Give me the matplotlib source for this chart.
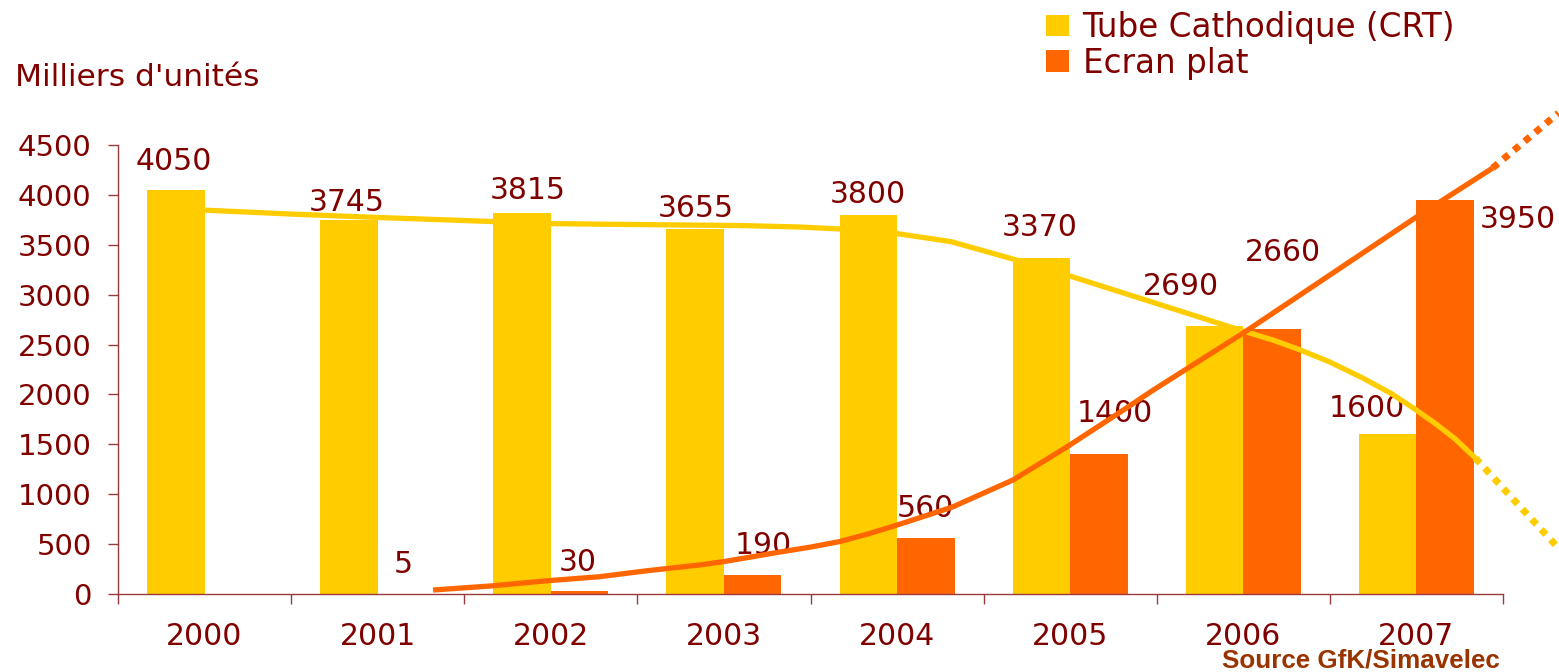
import matplotlib
matplotlib.use("Agg")
import matplotlib.pyplot as plt
import numpy as np

# ---- data ----
years = ["2000", "2001", "2002", "2003", "2004", "2005", "2006", "2007"]
crt = [4050, 3745, 3815, 3655, 3800, 3370, 2690, 1600]
flat = [0, 5, 30, 190, 560, 1400, 2660, 3950]
flat_labels = ["", "5", "30", "190", "560", "1400", "2660", "3950"]

# trend curves (category index, value)
trend_crt_x = [-0.01, 0.5, 1.01, 1.5, 2.0, 2.54, 3.09, 3.44, 3.73, 4.0, 4.31, 4.67, 5.0,
               5.4, 5.69, 6.0, 6.17, 6.33, 6.5, 6.69, 6.85, 6.99, 7.1, 7.22, 7.34]
trend_crt_y = [3848, 3808, 3773, 3743, 3712, 3702, 3693, 3678, 3653, 3612, 3532, 3357, 3186,
               2966, 2806, 2635, 2546, 2445, 2325, 2164, 2014, 1854, 1720, 1560, 1363]
trend_crt_ext_x = [7.34, 7.58, 7.82]
trend_crt_ext_y = [1363, 910, 461]

trend_flat_x = [1.32, 1.65, 1.98, 2.28, 2.56, 2.86, 3.0, 3.16, 3.32, 3.5, 3.67, 3.84, 4.02,
                4.32, 4.67, 4.98, 5.29, 5.48, 6.0, 6.5, 7.0, 7.44]
trend_flat_y = [40, 80, 133, 173, 234, 291, 325, 372, 420, 470, 526, 606, 702,
                872, 1143, 1473, 1824, 2044, 2616, 3197, 3778, 4269]
trend_flat_ext_x = [7.44, 7.82]
trend_flat_ext_y = [4269, 4820]

# label offsets in pixels (dx, dy) relative to top centre of bars
crt_off = [(-2, 28), (-2, 18), (6, 23), (1, 21), (-1, 20), (-2, 30), (-34, 39), (-21, 26)]
flat_off = [(0, 0), (-3, 29), (-2, 29), (11, 30), (0, 30), (16, 41), (11, 76), (73, -20)]

YEL = "#FFCC00"
ORA = "#FF6600"
RED = "#800000"
SPINE = "#9B3A3A"
FONT = ["DejaVu Sans"]

plt.rcParams["font.family"] = FONT

fig = plt.figure(figsize=(15.59, 6.72), dpi=100)
ax = fig.add_axes([118 / 1559, 1 - 594 / 672, (1503 - 118) / 1559, (594 - 145) / 672])

x = np.arange(len(years))
w = 0.332
b1 = ax.bar(x - w / 2, crt, w, color=YEL, label="Tube Cathodique (CRT)", zorder=2)
b2 = ax.bar(x + w / 2, flat, w, color=ORA, label="Ecran plat", zorder=2)

for i, v in enumerate(crt):
    dx, dy = crt_off[i]
    ax.annotate(str(v), (x[i] - w / 2, v), xytext=(dx, dy), textcoords="offset pixels",
                ha="center", va="center", fontsize=21.5, color=RED, zorder=3)
for i, v in enumerate(flat):
    if not flat_labels[i]:
        continue
    dx, dy = flat_off[i]
    ax.annotate(flat_labels[i], (x[i] + w / 2, v), xytext=(dx, dy), textcoords="offset pixels",
                ha="center", va="center", fontsize=21.5, color=RED, zorder=3)

lw = 3.8
ax.plot(trend_crt_x, trend_crt_y, color=YEL, lw=lw, zorder=4, solid_capstyle="butt",
        solid_joinstyle="round", clip_on=False)
ax.plot(trend_crt_ext_x, trend_crt_ext_y, color=YEL, lw=lw + 1.2, zorder=4, linestyle=(0, (1, 1)),
        dash_capstyle="butt", clip_on=False)
ax.plot(trend_flat_x, trend_flat_y, color=ORA, lw=lw, zorder=5, solid_capstyle="butt",
        solid_joinstyle="round", clip_on=False)
ax.plot(trend_flat_ext_x, trend_flat_ext_y, color=ORA, lw=lw + 1.2, zorder=5, linestyle=(0, (1, 1)),
        dash_capstyle="butt", clip_on=False)

ax.set_xlim(-0.5, len(years) - 0.5)
ax.set_ylim(0, 4500)
ax.set_yticks(np.arange(0, 4501, 500))
ax.set_xticks(np.arange(-0.5, len(years), 1.0))
ax.set_xticklabels([])
ax.set_xticks(x, minor=True)
ax.set_xticklabels(years, minor=True)
ax.tick_params(axis="x", which="major", direction="out", length=7, width=1, color=SPINE)
ax.tick_params(axis="x", which="minor", length=0, pad=20, labelsize=21.5, labelcolor=RED)
ax.tick_params(axis="y", direction="out", length=7, width=1, color=SPINE, pad=12,
               labelsize=21, labelcolor=RED)
for s in ["top", "right"]:
    ax.spines[s].set_visible(False)
for s in ["left", "bottom"]:
    ax.spines[s].set_color(SPINE)
    ax.spines[s].set_linewidth(1)

fig.text(15 / 1559, 1 - 78 / 672, "Milliers d'unités", fontsize=22.5, color=RED, va="center", ha="left")
fig.text(1500 / 1559, 1 - 661 / 672, "Source GfK/Simavelec", fontsize=18.75, fontweight="bold",
         color="#993300", ha="right", va="center",
         family=["Liberation Sans Narrow", "Liberation Sans", "DejaVu Sans"])

leg = fig.legend(handles=[b1, b2], loc="upper left", bbox_to_anchor=(1046 / 1559, 1 - 11 / 672),
                 frameon=False, fontsize=23.5, handlelength=0.7, handleheight=0.65,
                 handletextpad=0.42, labelspacing=0.08, borderaxespad=0, borderpad=0)
for t in leg.get_texts():
    t.set_color(RED)

fig.savefig("out.png", dpi=100)
